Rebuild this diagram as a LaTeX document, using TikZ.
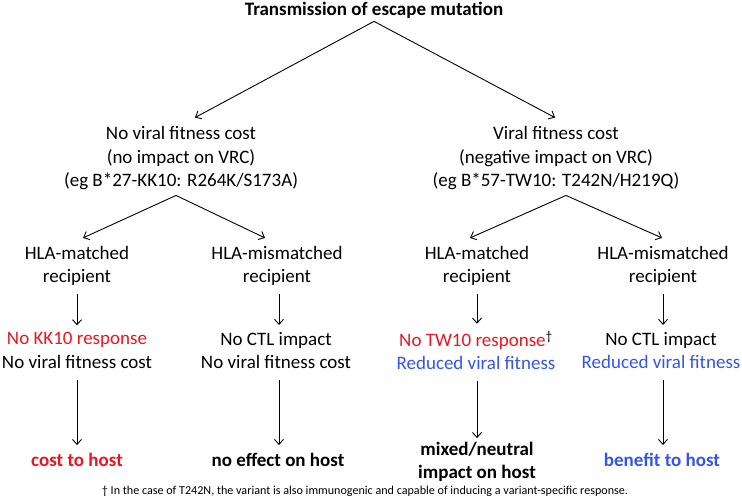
\documentclass[tikz,border=0pt]{standalone}
\usepackage{fontspec}
\setmainfont{Carlito}
\usetikzlibrary{arrows.meta}
\definecolor{cred}{RGB}{232,22,32}
\definecolor{cblue}{RGB}{52,85,230}
\begin{document}
\begin{tikzpicture}[x=1pt,y=-1pt,
  txt/.style={inner sep=0pt,align=center,font=\fontsize{19}{23.5}\selectfont},
  btxt/.style={txt,font=\fontsize{19}{23}\selectfont\bfseries},
  arr/.style={line width=0.9pt,-{Straight Barb[length=5pt,width=9pt]}}]
\useasboundingbox (0,0) rectangle (742,499);
\node[btxt] (title) at (374,10) {Transmission of escape mutation};
\node[txt] (l1) at (181,158.5) {No viral fitness cost\\(no impact on VRC)\\(eg B*27-KK10: R264K/S173A)};
\node[txt] (r1) at (556,158.5) {Viral fitness cost\\(negative impact on VRC)\\(eg B*57-TW10: T242N/H219Q)};
\node[txt] (a2) at (77,266) {HLA-matched\\recipient};
\node[txt] (b2) at (277,266) {HLA-mismatched\\recipient};
\node[txt] (c2) at (477,266) {HLA-matched\\recipient};
\node[txt] (d2) at (663,266) {HLA-mismatched\\recipient};
\node[txt] (a3) at (77,350.5) {\textcolor{cred}{No KK10 response}\\No viral fitness cost};
\node[txt] (b3) at (276,350.5) {No CTL impact\\No viral fitness cost};
\node[txt] (c3) at (476,350.5) {\textcolor{cred}{No TW10 response}\textsuperscript{†}\\\textcolor{cblue}{Reduced viral fitness}};
\node[txt] (d3) at (661,350.5) {No CTL impact\\\textcolor{cblue}{Reduced viral fitness}};
\node[btxt,text=cred] (a4) at (77,460) {cost to host};
\node[btxt] (b4) at (278,460) {no effect on host};
\node[btxt] (c4) at (477,462) {mixed/neutral\\impact on host};
\node[btxt,text=cblue] (d4) at (662,460) {benefit to host};
\node[inner sep=0pt,font=\fontsize{12.1}{14}\selectfont] (foot) at (365,491) {† In the case of T242N, the variant is also immunogenic and capable of inducing a variant-specific response.};
% level 1
\draw[arr] ([yshift=-3pt]title.south) -- ([xshift=14pt,yshift=9pt]l1.north);
\draw[arr] ([yshift=-3pt]title.south) -- ([xshift=-1pt,yshift=9pt]r1.north);
% level 2
\draw[arr] ([xshift=-5pt,yshift=-5pt]l1.south) -- ([xshift=6pt,yshift=8pt]a2.north);
\draw[arr] ([xshift=-5pt,yshift=-5pt]l1.south) -- ([xshift=-12pt,yshift=8pt]b2.north);
\draw[arr] ([xshift=10pt,yshift=-5pt]r1.south) -- ([xshift=-7pt,yshift=8pt]c2.north);
\draw[arr] ([xshift=10pt,yshift=-5pt]r1.south) -- ([xshift=-1pt,yshift=8pt]d2.north);
% short arrows
\draw[arr] ([yshift=-8pt]a2.south) -- ([yshift=7pt]a3.north);
\draw[arr] ([xshift=2pt,yshift=-8pt]b2.south) -- ([xshift=3pt,yshift=7pt]b3.north);
\draw[arr] ([yshift=-8pt]c2.south) -- ([xshift=1pt,yshift=7pt]c3.north);
\draw[arr] ([yshift=-8pt]d2.south) -- ([xshift=2pt,yshift=7pt]d3.north);
% long arrows
\draw[arr] ([yshift=-11pt]a3.south) -- ([yshift=8pt]a4.north);
\draw[arr] ([xshift=3pt,yshift=-11pt]b3.south) -- ([xshift=1pt,yshift=8pt]b4.north);
\draw[arr] ([xshift=1pt,yshift=-11pt]c3.south) -- ([yshift=4pt]c4.north);
\draw[arr] ([xshift=2pt,yshift=-11pt]d3.south) -- ([xshift=1pt,yshift=8pt]d4.north);
\end{tikzpicture}
\end{document}
